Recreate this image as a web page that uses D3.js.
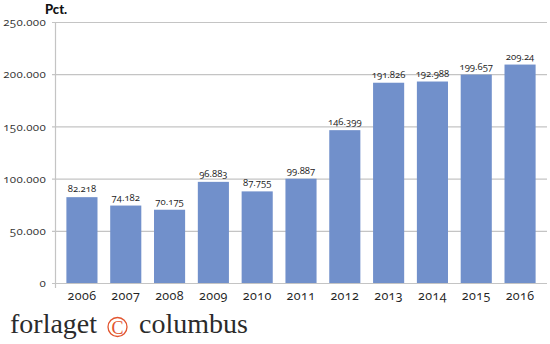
<!DOCTYPE html>
<html>
<head>
<meta charset="utf-8">
<script src="https://cdn.jsdelivr.net/npm/d3@7"></script>
<style>
  html, body { margin: 0; padding: 0; background: #fff; }
  svg { display: block; }
  .num { font-family: "Open Sans", "Lato", sans-serif; font-variant-numeric: oldstyle-nums; font-feature-settings: "onum" 1; }
</style>
</head>
<body>
<svg id="chart" width="550" height="344"></svg>
<script>
// Yearly totals (Pct.)
const years = ["2006","2007","2008","2009","2010","2011","2012","2013","2014","2015","2016"];
const values = [82218, 74182, 70175, 96883, 87755, 99887, 146399, 191826, 192988, 199657, 209240];
const valueLabels = ["82.218","74.182","70.175","96.883","87.755","99.887","146.399","191.826","192.988","199.657","209.24"];
const yTicks = [0, 50000, 100000, 150000, 200000, 250000];
const yTickLabels = ["0","50.000","100.000","150.000","200.000","250.000"];

const svg = d3.select("#chart");
const plotLeft = 55, plotRight = 547, plotTop = 22, plotBottom = 283;

const x = d3.scaleBand().domain(years).range([plotLeft, plotRight]).paddingInner(0.29).paddingOuter(0.26);
const y = d3.scaleLinear().domain([0, 250000]).range([plotBottom, plotTop]);

// horizontal gridlines
svg.append("g").selectAll("line").data(yTicks).join("line")
  .attr("x1", plotLeft - 3).attr("x2", plotRight)
  .attr("y1", d => y(d) + 0.5).attr("y2", d => y(d) + 0.5)
  .attr("stroke", "#c4c4c4").attr("stroke-width", 1.2);

// y tick labels
const yAxis = d3.axisLeft(y).tickValues(yTicks)
  .tickFormat((d, i) => yTickLabels[i]).tickSize(0).tickPadding(9);
const ya = svg.append("g").attr("transform", `translate(${plotLeft},0)`).call(yAxis);
ya.select(".domain").remove();
ya.selectAll("text").attr("class", "num").attr("font-size", 11.5)
  .attr("letter-spacing", 0.3).attr("fill", "#333");

// vertical axis line
svg.append("line").attr("x1", plotLeft + 0.5).attr("x2", plotLeft + 0.5)
  .attr("y1", plotTop).attr("y2", plotBottom + 5)
  .attr("stroke", "#c4c4c4").attr("stroke-width", 1.2);

// bars
svg.append("g").selectAll("rect").data(values).join("rect")
  .attr("x", (d, i) => x(years[i]))
  .attr("width", x.bandwidth())
  .attr("y", d => y(d))
  .attr("height", d => plotBottom - y(d))
  .attr("fill", "#7190cb");

// value labels
svg.append("g").selectAll("text").data(values).join("text")
  .attr("class", "num")
  .attr("x", (d, i) => x(years[i]) + x.bandwidth() / 2)
  .attr("y", d => y(d) - 5)
  .attr("text-anchor", "middle")
  .attr("font-size", 9.5)
  .attr("fill", "#222")
  .text((d, i) => valueLabels[i]);

// x axis labels
const xAxis = d3.axisBottom(x).tickSize(0).tickPadding(8);
const xa = svg.append("g").attr("transform", `translate(0,${plotBottom})`).call(xAxis);
xa.select(".domain").remove();
xa.selectAll("text").attr("class", "num").attr("font-size", 12.5)
  .attr("letter-spacing", 0.4).attr("fill", "#222");

// unit label
svg.append("text").attr("x", 45).attr("y", 14)
  .attr("font-family", "Lato, 'Open Sans', sans-serif").attr("font-weight", "900")
  .attr("font-size", 13).attr("fill", "#111").text("Pct.");

// publisher mark
const logo = svg.append("g").attr("font-family", "'Liberation Serif', 'DejaVu Serif', serif")
  .attr("font-size", 28).attr("fill", "#2b2b2b");
logo.append("text").attr("x", 10).attr("y", 333).text("forlaget");
logo.append("circle").attr("cx", 117.5).attr("cy", 327).attr("r", 9.5)
  .attr("fill", "none").attr("stroke", "#e2552f").attr("stroke-width", 1.3);
logo.append("text").attr("x", 117.5).attr("y", 333.5).attr("text-anchor", "middle")
  .attr("font-size", 18).attr("fill", "#e2552f").text("C");
logo.append("text").attr("x", 139).attr("y", 333).text("columbus");
</script>
</body>
</html>
